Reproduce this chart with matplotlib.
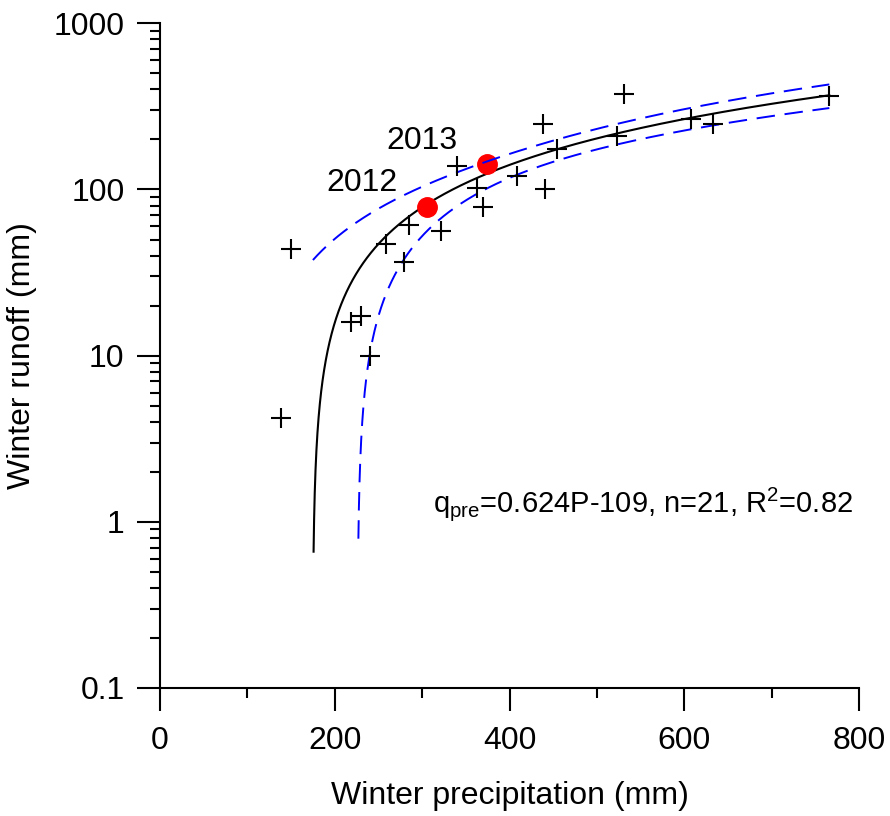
import numpy as np
import matplotlib
matplotlib.use("Agg")
from matplotlib import pyplot as plt

plt.rcParams['font.family'] = ['Liberation Sans', 'DejaVu Sans']
plt.rcParams['mathtext.fontset'] = 'custom'
plt.rcParams['mathtext.rm'] = 'Liberation Sans'
plt.rcParams['mathtext.it'] = 'Liberation Sans:italic'

# observed winters (black crosses), mm
precip = [139, 150, 218, 230, 240, 259, 279, 285, 322, 339.5, 363,
          370, 408, 438.6, 441, 454, 522.5, 531, 608, 633, 766]
runoff = [4.2, 44, 15.9, 17.3, 9.9, 47.3, 36.5, 61.5, 56, 138, 102,
          79, 120, 247, 101, 176, 209, 377, 264, 249, 365]

# highlighted years
years = ["2012", "2013"]
year_precip = [305.5, 373.7]
year_runoff = [79, 141.6]

# regression q = a*P + b
slope = 0.624
intercept = -109
t_95 = 2.093  # t(0.975, n-2=19)

xticks = [0, 200, 400, 600, 800]
xminor = [100, 300, 500, 700]
yticks = [0.1, 1, 10, 100, 1000]
ytick_labels = ["0.1", "1", "10", "100", "1000"]


def conf_band(xs, x, y):
    """ 95% confidence band of the regression mean. """
    x = np.asarray(x, float)
    y = np.asarray(y, float)
    n = len(x)
    resid = y - (slope * x + intercept)
    s = np.sqrt(np.sum(resid ** 2) / (n - 2))
    sxx = np.sum((x - x.mean()) ** 2)
    w = t_95 * s * np.sqrt(1.0 / n + (xs - x.mean()) ** 2 / sxx)
    fit = slope * xs + intercept
    return fit, fit - w, fit + w


xs = np.linspace(175, max(precip), 4000)
fit, lower, upper = conf_band(xs, precip, runoff)
fit = np.where(fit > 0.6, fit, np.nan)
lower = np.where(lower > 0.72, lower, np.nan)

fig = plt.figure(figsize=(8.9, 8.16), dpi=100)
ax = fig.add_axes([0.1798, 0.1569, 0.7854, 0.8145])

ax.plot(xs, fit, color='black', lw=1.5, zorder=2)
ax.plot(year_precip, year_runoff, 'o', color='red', ms=14, mec='red', zorder=3)
ax.plot(xs, upper, color='blue', lw=1.4, dashes=(9.5, 5), zorder=4)
ax.plot(xs, lower, color='blue', lw=1.4, dashes=(9.5, 5), zorder=4)
ax.plot(precip, runoff, '+', color='black', ms=15, mew=1.5, zorder=5)

for lab, px, py in zip(years, year_precip, year_runoff):
    ax.annotate(lab, (px, py), xytext=(-21, 11), textcoords='offset points',
                ha='right', va='baseline', fontsize=23)

ax.text(0.3906, 0.2648, r'q$_{\mathrm{pre}}$=0.624P-109, n=21, R$^{2}$=0.82',
        transform=ax.transAxes, fontsize=21, ha='left', va='baseline')

ax.set_yscale('log')
ax.set_xlim(0, 800)
ax.set_ylim(0.1, 1000)
ax.set_xticks(xticks)
ax.set_xticks(xminor, minor=True)
ax.set_yticks(yticks, labels=ytick_labels)
ax.set_xticklabels([str(v) for v in xticks])

for side in ['top', 'right']:
    ax.spines[side].set_visible(False)
for side in ['left', 'bottom']:
    ax.spines[side].set_linewidth(1.5)

ax.tick_params(which='major', length=16.5, width=1.5, labelsize=23, pad=11)
ax.tick_params(which='minor', length=7.2, width=1.5)
ax.tick_params(axis='y', which='major', pad=9)

ax.set_xlabel("Winter precipitation (mm)", fontsize=23, labelpad=18)
ax.set_ylabel("Winter runoff (mm)", fontsize=23, labelpad=12)

fig.savefig("out.png", dpi=100)
